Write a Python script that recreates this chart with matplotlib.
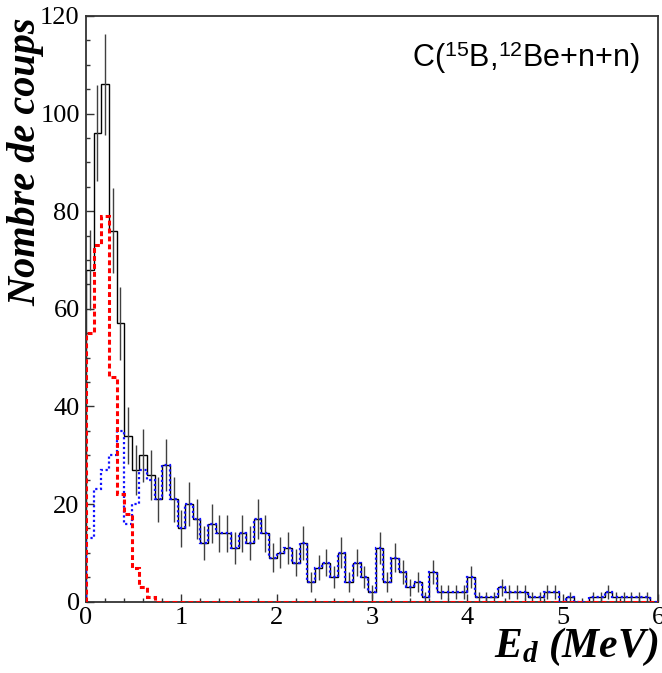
import numpy as np
import matplotlib
matplotlib.use('Agg')
import matplotlib.pyplot as plt
from matplotlib.ticker import MultipleLocator

# ---- data (counts per 0.08 MeV bin, 0 to 6 MeV) ----
bin_width = 0.08
x_min, x_max = 0.0, 6.0

data_counts = [68, 96, 106, 76, 57, 34, 27, 30, 26, 21,
               28, 21, 15, 20, 17, 12, 16, 14, 14, 11,
               14, 12, 17, 14, 9, 10, 11, 8, 12, 4,
               7, 8, 5, 10, 4, 8, 5, 2, 11, 4,
               9, 6, 3, 4, 1, 6, 2, 2, 2, 2,
               5, 1, 1, 1, 3, 2, 2, 2, 1, 1,
               2, 2, 0, 1, 0, 0, 1, 1, 2, 1,
               1, 1, 1, 1, 0]

blue_low = [13, 23, 27, 30, 35, 16, 20, 27, 25]
blue_counts = blue_low + data_counts[len(blue_low):]

red_low = [55, 73, 79, 46, 22, 18, 7, 3, 1]
red_counts = red_low + [0] * (len(data_counts) - len(red_low))

title_text = r'C($^{\mathregular{15}}$B,$^{\mathregular{12}}$Be+n+n)'
xlabel_text = r'$E_{d}$ (MeV)'
ylabel_text = 'Nombre de coups'

# ---- figure ----
plt.rcParams['mathtext.fontset'] = 'custom'
plt.rcParams['mathtext.it'] = 'Liberation Serif:bold:italic'
plt.rcParams['mathtext.rm'] = 'Liberation Serif:bold:italic'

W, H = 662, 673
fig = plt.figure(figsize=(W / 100, H / 100), dpi=100)
ax = fig.add_axes([86 / W, 1 - 601.7 / H, (658 - 86) / W, (601.7 - 16) / H])

n = len(data_counts)
edges = np.linspace(x_min, x_max, n + 1)
centers = 0.5 * (edges[:-1] + edges[1:])
d = np.array(data_counts, dtype=float)
err = np.sqrt(d)

ax.stairs(d, edges, color='black', lw=1.0, zorder=2)
ax.vlines(centers[d > 0], (d - err)[d > 0], (d + err)[d > 0], color='0.25', lw=1.0, zorder=2)
ax.stairs(blue_counts, edges, color='#1010ff', lw=1.6, ls=(0, (1, 1.2)), zorder=3)
ax.stairs(red_counts, edges, color='#ff0000', lw=2.2, ls=(0, (1.6, 1.0)), zorder=4)

ax.set_xlim(x_min, x_max)
ax.set_ylim(0, 120)
ax.xaxis.set_major_locator(MultipleLocator(1))
ax.xaxis.set_minor_locator(MultipleLocator(0.2))
ax.yaxis.set_major_locator(MultipleLocator(20))
ax.yaxis.set_minor_locator(MultipleLocator(5))
ax.tick_params(which='both', direction='in', top=False, right=False, width=1.0, color='0.2')
ax.tick_params(which='major', length=5.5)
ax.tick_params(which='minor', length=2.8)
ax.tick_params(axis='y', which='major', pad=4.5, labelsize=19)
ax.tick_params(axis='x', which='major', pad=4, labelsize=19)
for lab in ax.get_xticklabels() + ax.get_yticklabels():
    lab.set_fontfamily('Liberation Serif')
for sp in ax.spines.values():
    sp.set_linewidth(1.3)
    sp.set_color('0.2')

fig.text(44 / W, 1 - 18 / H, ylabel_text, rotation=90, ha='right', va='top',
         fontsize=29, fontfamily='Liberation Serif', fontweight='bold', fontstyle='italic')
fig.text(658 / W, 1 - 668 / H, xlabel_text, ha='right', va='bottom',
         fontsize=30, fontfamily='Liberation Serif', fontweight='bold', fontstyle='italic')
fig.text(412 / W, 1 - 66.5 / H, title_text, ha='left', va='baseline',
         fontsize=22, fontfamily='Liberation Sans')

fig.savefig('out.png', dpi=100)
